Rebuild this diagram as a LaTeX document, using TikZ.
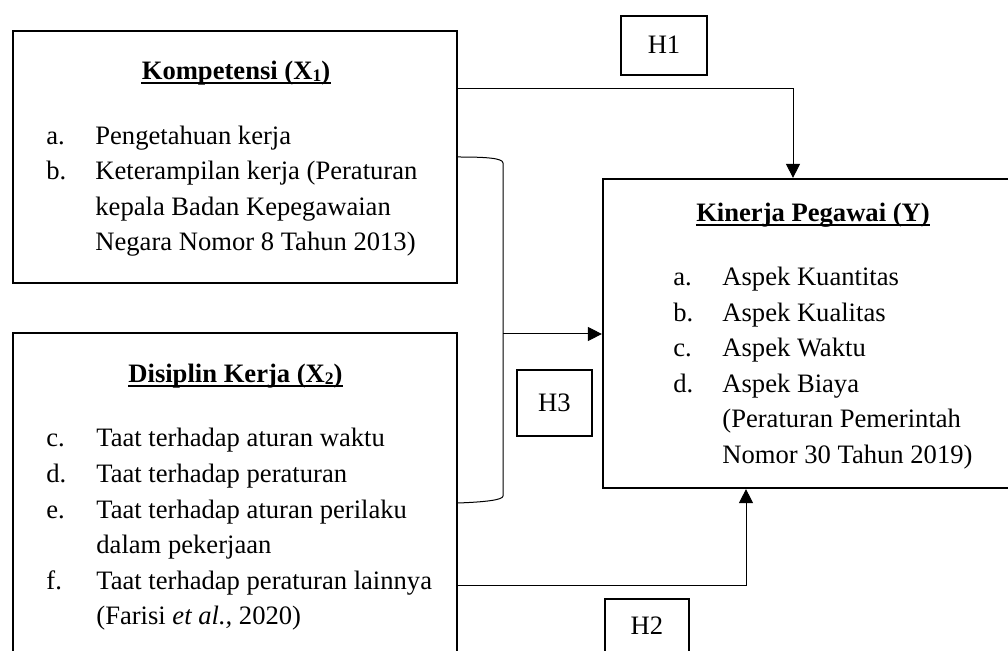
\documentclass[tikz,border=0pt]{standalone}
\usepackage{fontspec}
\setmainfont{Liberation Serif}
\usetikzlibrary{arrows.meta,fit}
\newcommand\mysub[1]{\raisebox{-0.6pt}{\fontsize{8.8}{9}\selectfont #1}}
\begin{document}
\begin{tikzpicture}[x=0.5pt,y=-0.5pt,
  box/.style={draw, line width=1.1pt, inner sep=0pt},
  hbox/.style={draw, line width=1.1pt, inner sep=0pt},
  txt/.style={anchor=base west, inner sep=0pt, font=\fontsize{13.3}{15}\selectfont},
  ttl/.style={anchor=base, inner sep=0pt, font=\fontsize{13.3}{15}\selectfont\bfseries},
  hlab/.style={anchor=center, inner sep=0pt, font=\fontsize{13.3}{15}\selectfont},
  uline/.style={line width=0.7pt},
  conn/.style={line width=0.5pt},
  arr/.style={conn, -{Triangle[length=7pt,width=7pt]}},
]
\useasboundingbox (0,0) rectangle (1008,651);
\clip (0,0) rectangle (1008,651);

% boxes
\node[box, fit={(13,31)(457,283)}] (x1) {};
\node[box, fit={(13,333)(457,690)}] (x2) {};
\node[box, fit={(603,179)(1023,488)}] (y) {};
\node[hbox, fit={(621,16)(707,75)}] (h1box) {};
\node[hbox, fit={(517,370)(592,436)}] (h3box) {};
\node[hbox, fit={(605,599)(689,690)}] (h2box) {};

\node[hlab] (h1) at (664,45) {H1};
\node[hlab] (h3) at (554.5,403) {H3};
\node[hlab] (h2) at (647,626) {H2};

% titles
\node[ttl] (t1) at (236,80) {Kompetensi (X\mysub{1})};
\draw[uline] ([yshift=-1.6pt]t1.base west) -- ([yshift=-1.6pt]t1.base east);
\node[ttl] (t2) at (235.5,383) {Disiplin Kerja (X\mysub{2})};
\draw[uline] ([yshift=-1.6pt]t2.base west) -- ([yshift=-1.6pt]t2.base east);
\node[ttl] (ty) at (813,222) {Kinerja Pegawai (Y)};
\draw[uline] ([yshift=-1.6pt]ty.base west) -- ([yshift=-1.6pt]ty.base east);

% X1 list
\node[txt] (x1la) at (46,144.5) {a.};
\node[txt] (x1a) at (95,144.5) {Pengetahuan kerja};
\node[txt] (x1lb) at (46,180) {b.};
\node[txt] (x1b) at (95,180) {Keterampilan kerja (Peraturan};
\node[txt] (x1c) at (95,215.5) {kepala Badan Kepegawaian};
\node[txt] (x1d) at (95,251) {Negara Nomor 8 Tahun 2013)};

% X2 list
\node[txt] (x2lc) at (46,447) {c.};
\node[txt] (x2c) at (96,447) {Taat terhadap aturan waktu};
\node[txt] (x2ld) at (46,482.6) {d.};
\node[txt] (x2d) at (96,482.6) {Taat terhadap peraturan};
\node[txt] (x2le) at (46,518.2) {e.};
\node[txt] (x2e) at (96,518.2) {Taat terhadap aturan perilaku};
\node[txt] (x2e2) at (96,553.8) {dalam pekerjaan};
\node[txt] (x2lf) at (46,589.4) {f.};
\node[txt] (x2f) at (96,589.4) {Taat terhadap peraturan lainnya};
\node[txt] (x2f2) at (96,625) {(Farisi \textit{et al.,} 2020)};

% Y list
\node[txt] (yla) at (673,286) {a.};
\node[txt] (ya) at (722,286) {Aspek Kuantitas};
\node[txt] (ylb) at (673,321.5) {b.};
\node[txt] (yb) at (722,321.5) {Aspek Kualitas};
\node[txt] (ylc) at (673,357) {c.};
\node[txt] (yc) at (722,357) {Aspek Waktu};
\node[txt] (yld) at (673,392.5) {d.};
\node[txt] (yd) at (722,392.5) {Aspek Biaya};
\node[txt] (yd2) at (722,428) {(Peraturan Pemerintah};
\node[txt] (yd3) at (722,463.5) {Nomor 30 Tahun 2019)};

% connectors
\draw[arr] (x1.east |- 0,89) -| (y.north -| 793,0);
\draw[arr] (x2.east |- 0,586) -| (y.south -| 746,0);
\coordinate (bt) at (x1.east |- 0,157);
\coordinate (bb) at (x2.east |- 0,503);
\coordinate (bm) at (503,334);
\draw[conn] (bt) .. controls (485,157) and (503,158) .. (503,163) -- (503,496) .. controls (503,500) and (485,502) .. (bb);
\draw[arr] (bm) -- (y.west |- bm);
\end{tikzpicture}
\end{document}
